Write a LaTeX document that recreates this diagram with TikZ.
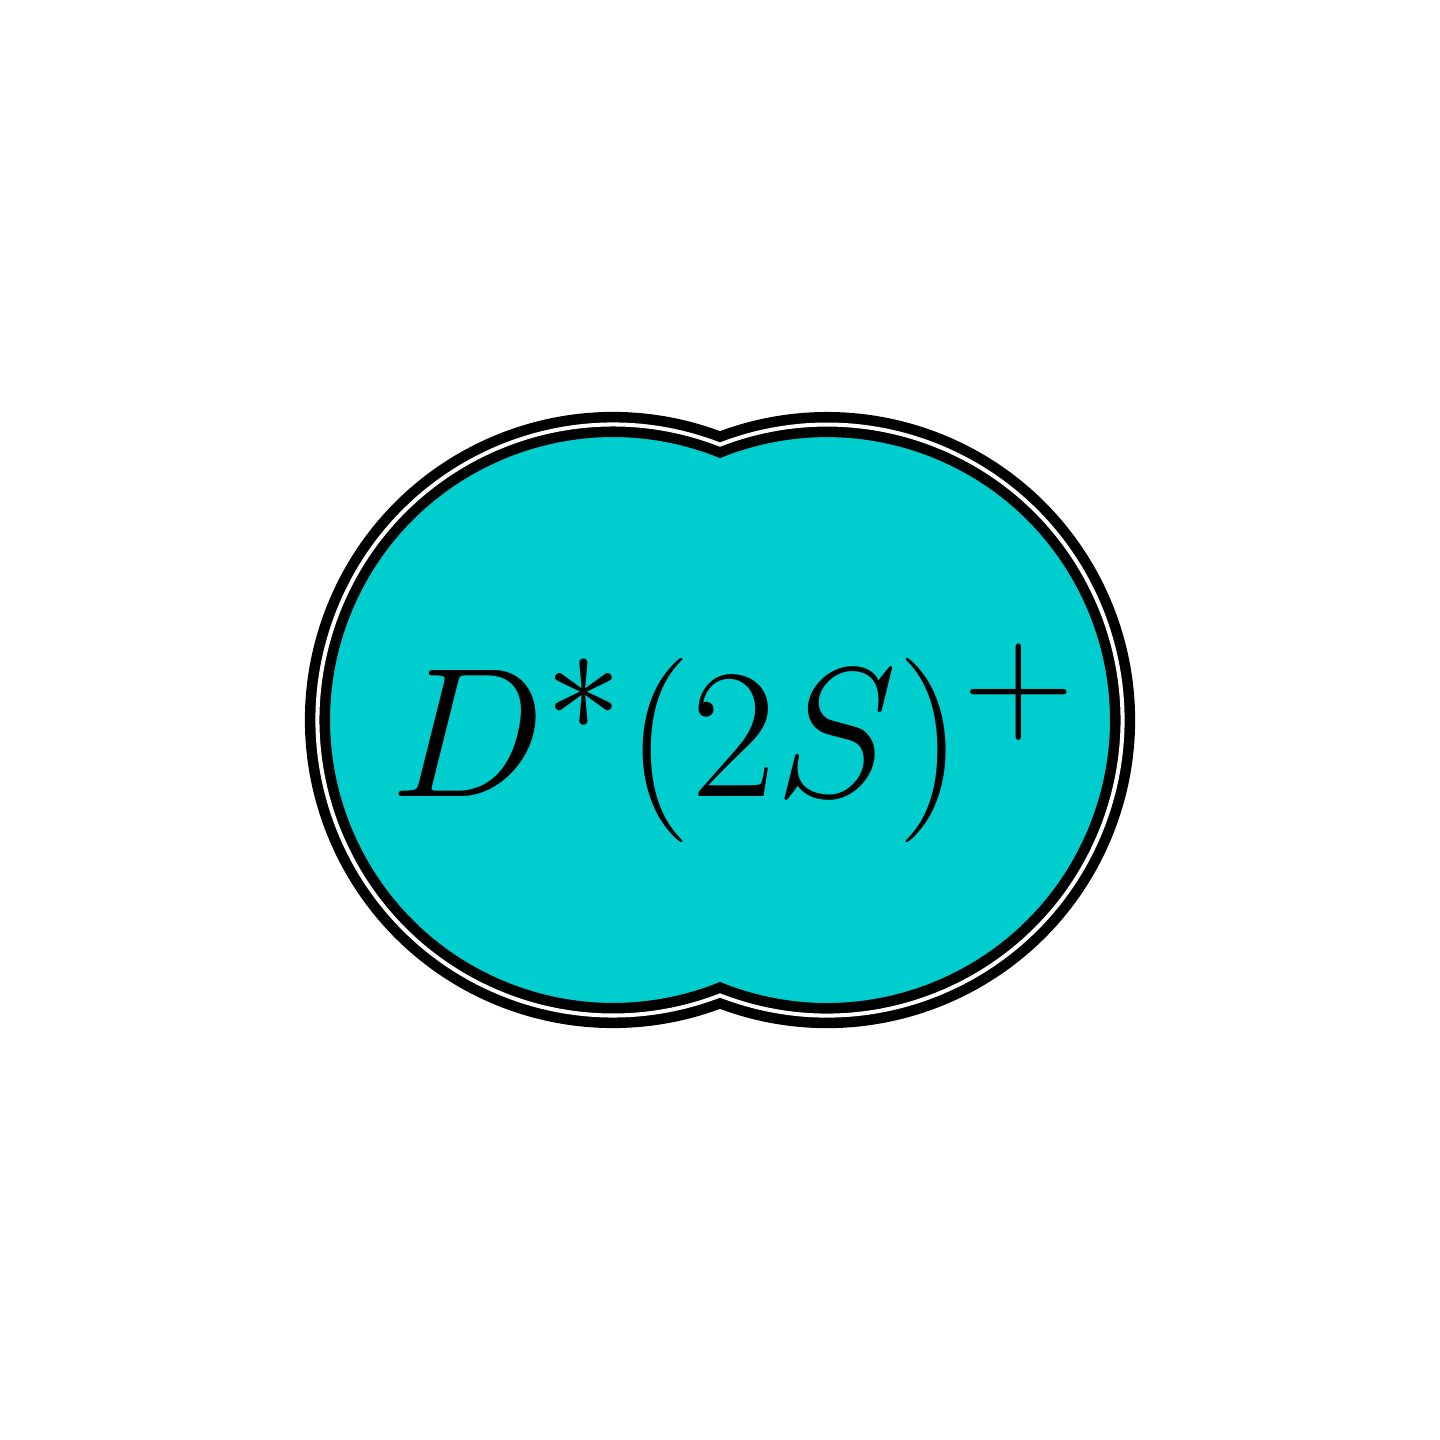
\RequirePackage{fix-cm}
\documentclass[tikz,border=0pt]{standalone}
\begin{document}
\begin{tikzpicture}
\definecolor{blobfill}{RGB}{0,206,206}
\tikzset{blob/.style={fill=blobfill, draw=black, line width=3pt, double=white, double distance=1.15pt, line join=miter}}
\useasboundingbox (0,0) rectangle (14.4,14.4);
\coordinate (lc) at (6.13,7.2);
\coordinate (rc) at (8.27,7.2);
\coordinate (topnotch) at (7.2,9.954);
\path[blob] (topnotch) arc[start angle=68.77, end angle=291.23, radius=2.955]
  arc[start angle=248.77, end angle=471.23, radius=2.955] -- cycle;
\node[anchor=base, inner sep=0pt, font=\Huge, scale=2.11] (lbl) at (7.34,6.43) {$D^*(2S)^+$};
\end{tikzpicture}
\end{document}
